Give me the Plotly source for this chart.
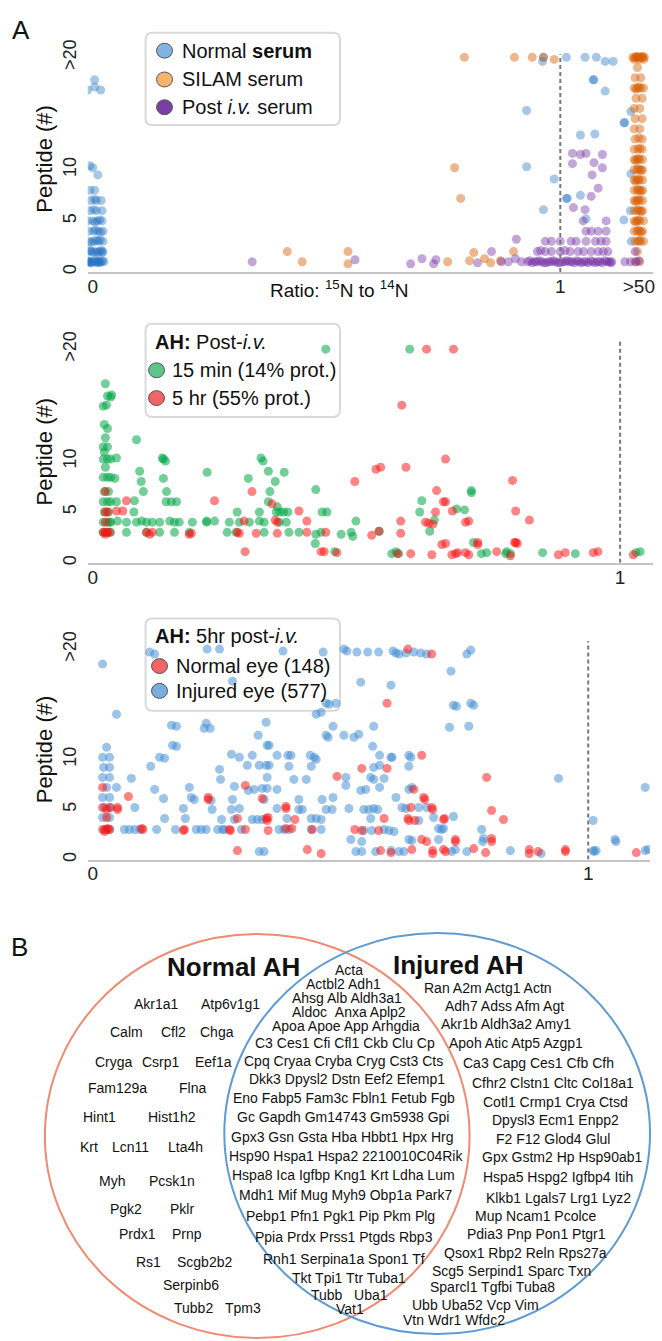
import plotly.graph_objects as go

W, H = 662, 1341
def fx(px): return px / W
def fy(py): return 1 - py / H

# ---------------- DATA ----------------
# Panel A (top): ratio position (0 -> "0", 1 -> "1", 1.168 -> ">50"), peptide count (21 -> ">20")
top_tick_vals = [0, 1, 1.168]
top_tick_text = ["0", "1", ">50"]
mid_tick_vals = [0, 1]
mid_tick_text = ["0", "1"]
y_tick_vals = [0, 5, 10, 21]
y_tick_text = ["0", "5", "10", ">20"]

normal_serum_pts = [
    (-0.012, 1), (-0.006, 1), (0.000, 1), (0.006, 1), (0.012, 1), (0.018, 1), (0.024, 1), (-0.003, 0.9),
    (0.009, 0.9), (0.021, 1.1), (-0.009, 1.1), (0.003, 1.1), (0.015, 0.9), (-0.006, 0.9), (0.012, 1.1),
    (-0.010, 2), (-0.002, 2), (0.006, 2), (0.014, 2), (0.022, 2), (0.002, 1.9), (0.018, 2.1), (-0.006, 2.1),
    (0.010, 1.9), (0.020, 1.9),
    (-0.008, 3), (0.002, 3), (0.012, 3), (0.022, 3), (0.016, 3.1), (-0.003, 2.9), (0.008, 3.1),
    (-0.008, 4), (0.002, 4), (0.012, 4), (0.022, 4), (0.006, 4.1), (0.017, 3.9),
    (-0.010, 5), (0.000, 5), (0.010, 5), (0.020, 5), (0.015, 5.1), (0.005, 4.9),
    (-0.006, 6), (0.008, 6), (0.020, 6), (0.002, 6.1),
    (-0.004, 7), (0.008, 7), (0.018, 7), (0.004, 7.1),
    (-0.006, 8), (0.004, 8), (0.011, 9.5), (-0.006, 10.4), (0.000, 10.2),
    (-0.011, 17.8), (0.004, 18.1), (0.017, 17.8), (0.004, 18.8),
    (0.964, 21), (0.962, 20.6), (1.013, 21), (1.053, 21), (1.077, 21), (1.096, 20.6), (1.113, 20.6),
    (1.070, 18.8), (1.072, 18.8), (1.096, 17.7), (0.928, 15.8), (1.043, 13.4), (1.074, 13.5),
    (1.136, 14.6), (1.138, 14.6), (1.151, 15.7), (0.928, 10.3), (0.987, 9.1), (1.013, 7.2),
    (1.015, 7.2), (1.043, 7.5), (0.964, 6.1), (1.055, 5.2), (1.136, 5.1), (1.151, 9.6),
    (1.152, 3.0), (1.150, 6.0),
]
silam_serum_pts = [
    (0.795, 21), (0.902, 21), (0.940, 21), (0.964, 21), (0.987, 20.8), (0.774, 10.2), (0.787, 7.2),
    (0.759, 1.0), (0.806, 1.1), (0.815, 1.9), (0.838, 1.3), (0.851, 0.9), (0.872, 1.1), (0.900, 2.0),
    (0.416, 2.0), (0.448, 1.0), (0.546, 2.0), (0.546, 0.8),
    (1.155, 21), (1.160, 21), (1.165, 21), (1.170, 21), (1.175, 21), (1.180, 21), (1.162, 21), (1.172, 21),
    (1.158, 20.8), (1.168, 20.8), (1.178, 20.8), (1.164, 21.1), (1.176, 21.1),
    (1.165, 20), (1.160, 19), (1.172, 19),
    (1.158, 18), (1.165, 18), (1.172, 18), (1.178, 18), (1.168, 18.1), (1.162, 17.9),
    (1.162, 17), (1.175, 17), (1.158, 16), (1.170, 16), (1.160, 15), (1.175, 15),
    (1.158, 14), (1.170, 14), (1.160, 13), (1.175, 13), (1.168, 13.1),
    (1.158, 12), (1.166, 12), (1.175, 12), (1.170, 12.1),
    (1.158, 11), (1.164, 11), (1.170, 11), (1.176, 11), (1.167, 11.1), (1.161, 10.9),
    (1.158, 10), (1.164, 10), (1.170, 10), (1.176, 10), (1.167, 10.1), (1.173, 9.9),
    (1.158, 9), (1.164, 9), (1.170, 9), (1.176, 9), (1.167, 9.1), (1.161, 8.9),
    (1.158, 8), (1.164, 8), (1.170, 8), (1.176, 8), (1.167, 8.1), (1.173, 7.9),
    (1.158, 7), (1.164, 7), (1.170, 7), (1.176, 7), (1.167, 7.1), (1.161, 6.9),
    (1.158, 6), (1.164, 6), (1.170, 6), (1.176, 6), (1.167, 6.1), (1.173, 5.9),
    (1.158, 5), (1.164, 5), (1.170, 5), (1.178, 5), (1.167, 5.1), (1.161, 4.9),
    (1.158, 4), (1.164, 4), (1.170, 4), (1.176, 4), (1.167, 4.1), (1.173, 3.9),
    (1.160, 3), (1.166, 3), (1.172, 3), (1.178, 3), (1.169, 3.1),
    (1.165, 2), (1.160, 1), (1.170, 1),
]
post_iv_serum_pts = [
    (0.341, 1.0), (0.561, 1.2), (0.680, 0.8), (0.704, 1.3), (0.729, 0.8), (0.734, 1.2), (0.823, 0.9),
    (0.853, 2.0), (0.874, 1.0), (0.889, 1.0), (0.906, 3.2), (0.904, 1.3), (0.917, 1.0),
    (0.930, 1.0), (0.940, 0.9), (0.950, 1.0), (0.960, 1.0), (0.970, 0.9), (0.980, 1.0), (0.990, 1.0),
    (1.000, 0.9), (1.010, 1.0), (1.020, 1.0), (1.030, 0.9), (1.040, 1.0), (1.050, 1.0), (1.060, 0.9),
    (1.070, 1.0), (1.080, 1.0), (1.090, 0.9), (1.100, 1.0), (1.110, 1.0), (0.945, 1.0), (0.975, 1.0),
    (1.005, 1.0), (1.025, 1.0), (1.055, 1.0), (1.085, 1.0), (1.105, 1.0),
    (0.935, 1.1), (0.955, 1.1), (0.965, 0.9), (0.985, 1.1), (0.995, 0.9), (1.015, 1.1), (1.035, 1.1),
    (1.045, 0.9), (1.065, 1.1), (1.075, 0.9), (1.095, 1.1), (1.108, 0.9),
    (0.951, 2), (0.968, 2), (0.981, 2), (1.000, 2), (1.021, 2), (1.038, 2), (1.066, 2), (1.081, 2), (1.102, 2),
    (0.958, 2.1), (1.010, 2.1), (1.050, 2.0), (1.092, 2.0),
    (0.968, 3), (0.981, 3), (1.000, 3), (1.023, 3), (1.034, 3), (1.055, 3), (1.075, 3), (1.087, 3), (1.098, 3),
    (1.055, 4), (1.066, 4), (1.081, 4), (1.098, 4), (1.049, 5), (1.098, 5),
    (1.028, 6.3), (1.053, 6.1), (1.066, 7.4), (1.081, 8.2), (1.068, 9.5), (1.026, 10.6),
    (1.043, 11.5), (1.026, 11.6), (1.055, 11.6), (1.072, 10.7), (1.090, 11.5), (1.090, 10.2),
    (1.160, 2), (1.162, 1), (1.150, 1), (1.138, 1), (1.168, 1.1),
]

# Panel A (middle): AH post-i.v.
ah_15min_pts = [
    (0.024, 17.6), (0.028, 16.4), (0.036, 16.5), (0.020, 15.4), (0.026, 15.5), (0.022, 13.6), (0.028, 13.2),
    (0.024, 12.3), (0.020, 11.4), (0.028, 11.4), (0.022, 10.9), (0.020, 10.2), (0.028, 10.2), (0.034, 10.2),
    (0.024, 9.4), (0.020, 8.4), (0.028, 8.4), (0.034, 8.4), (0.022, 7.0), (0.030, 7.0),
    (0.020, 6.0), (0.028, 6.0), (0.034, 6.0), (0.022, 5.0), (0.030, 5.0),
    (0.020, 4.0), (0.028, 4.0), (0.034, 4.0), (0.020, 3.0), (0.028, 3.0), (0.034, 3.0),
    (0.442, 21), (0.034, 16.3), (0.083, 12.1), (0.045, 10.3), (0.042, 8.3), (0.089, 9.0), (0.092, 8.0),
    (0.096, 7.0), (0.045, 6.0), (0.079, 6.1), (0.078, 5.0), (0.132, 10.3), (0.134, 10.2), (0.138, 10.0),
    (0.134, 8.3), (0.140, 7.0), (0.139, 6.0), (0.149, 6.0), (0.159, 6.0), (0.217, 8.9), (0.319, 10.3),
    (0.323, 10.0), (0.333, 9.0), (0.363, 8.9), (0.295, 8.3), (0.346, 8.0), (0.336, 7.0), (0.333, 6.0),
    (0.348, 5.0), (0.355, 5.0), (0.362, 5.0), (0.370, 5.0), (0.350, 5.5),
    (0.032, 4.0), (0.047, 4.1), (0.064, 4.0), (0.083, 4.0), (0.093, 4.1), (0.102, 4.0), (0.113, 4.0),
    (0.127, 4.0), (0.146, 4.1), (0.155, 4.0), (0.164, 4.0), (0.189, 4.0), (0.216, 4.0), (0.231, 4.1),
    (0.259, 4.0), (0.278, 4.0), (0.297, 4.0), (0.316, 4.1), (0.325, 4.0), (0.354, 4.0), (0.367, 4.0),
    (0.064, 3.0), (0.102, 3.0), (0.127, 3.0), (0.155, 3.0), (0.183, 3.0), (0.255, 3.0), (0.272, 3.0),
    (0.325, 3.0), (0.372, 3.0), (0.391, 3.0), (0.433, 3.0),
    (0.274, 5.0), (0.316, 5.0), (0.216, 4.1), (0.423, 7.2), (0.435, 5.0), (0.444, 5.0), (0.423, 2.8),
    (0.422, 1.9), (0.459, 1.1), (0.471, 2.8), (0.490, 3.0), (0.493, 2.6), (0.499, 4.1),
    (0.601, 21), (0.624, 6.1), (0.620, 5.0), (0.648, 4.2), (0.639, 3.1), (0.690, 5.3), (0.705, 5.2),
    (0.718, 7.1), (0.718, 6.9), (0.722, 2.0), (0.567, 0.9), (0.575, 1.1), (0.580, 0.9), (0.737, 0.9),
    (0.747, 1.0), (0.783, 0.9), (0.792, 0.9), (0.853, 1.0), (0.915, 0.9), (1.030, 1.0), (1.038, 1.1),
    (0.543, 3.1), (0.785, 1.1),
]
ah_5hr_pts = [
    (0.024, 7.0), (0.024, 5.0), (0.028, 5.0), (0.024, 4.0), (0.020, 3.0), (0.024, 3.0), (0.028, 3.0),
    (0.032, 3.0), (0.024, 2.8),
    (0.045, 5.1), (0.057, 5.1), (0.064, 6.1), (0.113, 3.0), (0.102, 3.0), (0.108, 2.8), (0.187, 2.9),
    (0.183, 2.8), (0.231, 6.1), (0.278, 2.9), (0.274, 3.0), (0.287, 4.1), (0.302, 7.0), (0.310, 2.9),
    (0.289, 1.1), (0.340, 5.8), (0.350, 4.0), (0.346, 4.2), (0.350, 2.9), (0.391, 5.1), (0.406, 4.1),
    (0.406, 3.0), (0.442, 3.0), (0.433, 1.1), (0.439, 1.1), (0.463, 1.0), (0.497, 8.0),
    (0.633, 21), (0.684, 21), (0.586, 15.5), (0.669, 10.2), (0.537, 9.2), (0.546, 9.4), (0.594, 9.4),
    (0.796, 8.1), (0.652, 7.1), (0.665, 6.0), (0.669, 6.0), (0.650, 5.0), (0.682, 5.1), (0.802, 5.1),
    (0.828, 4.2), (0.631, 4.0), (0.637, 3.9), (0.645, 3.8), (0.707, 4.0), (0.713, 4.1), (0.584, 4.1),
    (0.584, 2.9), (0.529, 2.7), (0.543, 3.1), (0.662, 1.8), (0.669, 1.9), (0.730, 2.0), (0.730, 1.8),
    (0.802, 2.0), (0.805, 1.9), (0.800, 2.0), (0.578, 0.9), (0.603, 0.9), (0.643, 0.8), (0.681, 0.8),
    (0.688, 0.9), (0.692, 1.0), (0.707, 1.0), (0.713, 0.8), (0.766, 1.1), (0.792, 0.7), (0.883, 0.8),
    (0.896, 1.0), (0.949, 1.0), (0.958, 1.1), (1.025, 0.8),
]

# Panel A (bottom): AH 5 hr post-i.v.
normal_eye_pts = [
    (0.020, 7.2), (0.020, 5.2), (0.034, 5.2), (0.028, 5.0), (0.028, 4.2), (0.020, 3.0), (0.028, 3.0),
    (0.034, 3.0), (0.024, 2.8), (0.030, 3.1),
    (0.050, 5.0), (0.050, 5.2), (0.072, 6.3), (0.101, 3.0), (0.099, 3.1), (0.185, 3.0), (0.183, 2.9),
    (0.233, 6.0), (0.233, 6.2), (0.276, 3.0), (0.278, 2.9), (0.292, 4.1), (0.292, 0.9), (0.308, 7.4),
    (0.308, 3.0), (0.342, 6.1), (0.350, 4.1), (0.352, 3.9), (0.354, 4.2), (0.354, 2.9), (0.390, 5.1),
    (0.390, 5.3), (0.390, 3.1), (0.402, 3.1), (0.408, 4.0), (0.433, 1.0), (0.461, 0.6), (0.443, 3.0),
    (0.493, 8.3), (0.529, 3.0),
    (0.636, 21), (0.684, 20.5), (0.594, 15.6), (0.664, 10.4), (0.543, 9.1), (0.594, 9.1), (0.795, 8.2),
    (0.648, 7.0), (0.668, 6.2), (0.670, 6.0), (0.642, 5.2), (0.684, 5.2), (0.686, 5.0), (0.636, 4.1),
    (0.638, 3.9), (0.710, 4.1), (0.708, 4.0), (0.650, 3.9), (0.588, 4.1), (0.805, 4.9), (0.829, 4.0),
    (0.543, 2.9), (0.577, 2.9), (0.664, 2.0), (0.674, 1.8), (0.732, 1.8), (0.732, 2.0), (0.805, 2.1),
    (0.805, 1.8), (0.581, 0.9), (0.602, 0.7), (0.644, 1.0), (0.686, 0.9), (0.686, 0.6), (0.708, 1.0),
    (0.712, 0.8), (0.769, 1.1), (0.793, 0.7), (0.881, 1.0), (0.881, 0.6), (0.899, 0.8), (0.954, 1.0),
    (0.954, 0.8), (1.097, 0.7),
]
injured_eye_pts = [
    (0.020, 19.5), (0.028, 11.2), (0.020, 10.2), (0.034, 10.2), (0.022, 9.2), (0.034, 9.2), (0.020, 8.2),
    (0.034, 8.2), (0.028, 7.2), (0.020, 6.2), (0.034, 6.2), (0.024, 5.2), (0.036, 5.2), (0.020, 4.2),
    (0.034, 4.2), (0.024, 3.0), (0.034, 3.0),
    (0.048, 14.5), (0.048, 7.2), (0.078, 8.1), (0.085, 5.2), (0.064, 3.0), (0.074, 3.0), (0.085, 3.0),
    (0.095, 3.0), (0.117, 9.3), (0.125, 7.0), (0.129, 3.0), (0.135, 10.2), (0.145, 10.1), (0.143, 6.1),
    (0.145, 4.1), (0.159, 13.4), (0.169, 13.3), (0.161, 11.4), (0.169, 11.3), (0.167, 3.0), (0.183, 5.1),
    (0.195, 7.2), (0.187, 4.1), (0.199, 6.2), (0.205, 6.0), (0.209, 3.0), (0.219, 3.0), (0.229, 3.0),
    (0.229, 13.6), (0.225, 13.1), (0.237, 13.1), (0.239, 5.9), (0.241, 5.0), (0.256, 9.0), (0.258, 8.0),
    (0.260, 4.0), (0.252, 3.0), (0.262, 3.0), (0.266, 3.0), (0.280, 10.5), (0.282, 6.0), (0.280, 5.0),
    (0.286, 7.3), (0.286, 4.0), (0.296, 10.2), (0.296, 5.1), (0.300, 3.0), (0.312, 9.4), (0.314, 6.9),
    (0.326, 7.0), (0.322, 10.4), (0.322, 4.0), (0.332, 4.0), (0.334, 12.4), (0.336, 9.4), (0.336, 0.8),
    (0.346, 0.8), (0.342, 7.1), (0.346, 6.0), (0.350, 13.7), (0.352, 11.4), (0.356, 11.4), (0.350, 9.4),
    (0.356, 9.4), (0.352, 8.2), (0.352, 7.1), (0.342, 4.0), (0.372, 10.4), (0.372, 7.0), (0.372, 5.1),
    (0.376, 3.0), (0.386, 3.0), (0.396, 3.0), (0.392, 4.1), (0.394, 10.4), (0.400, 10.4), (0.396, 9.3),
    (0.406, 8.0), (0.416, 6.0), (0.416, 5.0), (0.423, 5.0), (0.431, 8.0), (0.439, 10.4), (0.447, 10.2),
    (0.451, 10.0), (0.441, 9.3), (0.441, 4.1), (0.451, 4.1), (0.461, 4.0), (0.441, 3.0), (0.461, 3.0),
    (0.451, 14.5), (0.461, 14.7), (0.471, 15.6), (0.477, 15.5), (0.471, 12.4), (0.475, 12.2),
    (0.463, 6.0), (0.471, 5.0), (0.483, 5.0), (0.485, 6.2), (0.485, 13.3), (0.491, 15.6), (0.507, 12.4),
    (0.511, 7.4), (0.511, 8.2), (0.517, 5.1), (0.521, 2.0), (0.527, 12.2), (0.531, 0.8), (0.282, 17.8),
    (0.115, 20.7), (0.125, 20.5), (0.231, 21), (0.256, 21), (0.384, 20.8), (0.465, 20.7), (0.507, 21),
    (0.513, 20.8), (0.533, 20.7), (0.555, 20.7), (0.577, 20.7), (0.606, 20.8), (0.612, 20.6),
    (0.618, 20.5), (0.632, 20.6), (0.648, 20.7), (0.662, 20.6), (0.674, 20.5), (0.755, 20.5), (0.763, 20.9),
    (0.723, 18.8), (0.541, 17.7), (0.602, 17.4), (0.728, 15.4), (0.734, 15.3), (0.763, 15.6), (0.769, 15.4),
    (0.720, 13.2), (0.759, 13.3), (0.537, 12.5), (0.567, 13.3), (0.565, 11.3), (0.579, 10.4), (0.602, 10.2),
    (0.604, 10.2), (0.638, 10.4), (0.642, 10.2), (0.567, 9.2), (0.579, 9.4), (0.638, 9.3), (0.561, 8.2),
    (0.567, 8.0), (0.588, 8.1), (0.541, 6.9), (0.551, 7.0), (0.579, 7.2), (0.612, 6.2), (0.638, 7.0),
    (0.644, 7.2), (0.547, 5.0), (0.557, 5.0), (0.567, 5.1), (0.575, 5.0), (0.624, 5.2), (0.632, 5.1),
    (0.658, 5.2), (0.674, 5.2), (0.561, 4.1), (0.547, 2.9), (0.563, 2.9), (0.588, 3.0), (0.598, 2.9),
    (0.608, 2.8), (0.658, 3.9), (0.688, 4.2), (0.698, 3.1), (0.704, 3.0), (0.708, 3.1), (0.728, 4.3),
    (0.638, 2.0), (0.644, 1.9), (0.698, 2.0), (0.785, 3.0), (0.789, 2.1), (0.787, 1.8), (0.543, 1.8),
    (0.543, 0.8), (0.571, 0.8), (0.602, 0.9), (0.618, 0.8), (0.628, 0.8), (0.724, 0.8), (0.732, 1.0),
    (0.755, 0.8), (0.843, 0.9), (0.905, 0.6), (0.940, 8.1), (1.010, 3.9), (1.010, 0.9), (1.016, 0.9),
    (1.012, 0.8), (1.054, 2.0), (1.056, 1.8), (1.115, 7.2), (1.115, 0.9), (1.121, 1.0),
]

# Panel B: Venn gene lists
normal_only_genes = ["Akr1a1", "Atp6v1g1", "Calm", "Cfl2", "Chga", "Cryga", "Csrp1", "Eef1a",
                     "Fam129a", "Flna", "Hint1", "Hist1h2", "Krt", "Lcn11", "Lta4h", "Myh", "Pcsk1n",
                     "Pgk2", "Pklr", "Prdx1", "Prnp", "Rs1", "Scgb2b2", "Serpinb6", "Tubb2", "Tpm3"]
shared_rows = ["Acta", "Actbl2 Adh1", "Ahsg Alb Aldh3a1", "Aldoc  Anxa Aplp2", "Apoa Apoe App Arhgdia",
               "C3 Ces1 Cfi Cfl1 Ckb Clu Cp", "Cpq Cryaa Cryba Cryg Cst3 Cts",
               "Dkk3 Dpysl2 Dstn Eef2 Efemp1", "Eno Fabp5 Fam3c Fbln1 Fetub Fgb",
               "Gc Gapdh Gm14743 Gm5938 Gpi", "Gpx3 Gsn Gsta Hba Hbbt1 Hpx Hrg",
               "Hsp90 Hspa1 Hspa2 2210010C04Rik", "Hspa8 Ica Igfbp Kng1 Krt Ldha Lum",
               "Mdh1 Mif Mug Myh9 Obp1a Park7", "Pebp1 Pfn1 Pgk1 Pip Pkm Plg", "Ppia Prdx Prss1 Ptgds Rbp3",
               "Rnh1 Serpina1a Spon1 Tf", "Tkt Tpi1 Ttr Tuba1", "Tubb   Uba1", "Vat1"]
injured_rows = ["Ran A2m Actg1 Actn", "Adh7 Adss Afm Agt", "Akr1b Aldh3a2 Amy1",
                "Apoh Atic Atp5 Azgp1", "Ca3 Capg Ces1 Cfb Cfh", "Cfhr2 Clstn1 Cltc Col18a1",
                "Cotl1 Crmp1 Crya Ctsd", "Dpysl3 Ecm1 Enpp2", "F2 F12 Glod4 Glul",
                "Gpx Gstm2 Hp Hsp90ab1", "Hspa5 Hspg2 Igfbp4 Itih", "Klkb1 Lgals7 Lrg1 Lyz2",
                "Mup Ncam1 Pcolce", "Pdia3 Pnp Pon1 Ptgr1", "Qsox1 Rbp2 Reln Rps27a",
                "Scg5 Serpind1 Sparc Txn", "Sparcl1 Tgfbi Tuba8", "Ubb Uba52 Vcp Vim",
                "Vtn Wdr1 Wfdc2"]

# ---------------- LAYOUT POSITIONS (pixels) ----------------
normal_only_pos = [(157, 1003), (231, 1003), (127, 1032), (174, 1032), (218, 1032), (114, 1062),
                   (161, 1062), (214, 1062), (118, 1088), (193, 1088), (100, 1117), (173, 1117),
                   (89, 1148), (131, 1148), (186, 1148), (112, 1182), (173, 1182), (126, 1210),
                   (183, 1210), (138, 1235), (188, 1235), (149, 1263), (205, 1263), (192, 1287),
                   (194, 1310), (244, 1310)]
shared_pos = [(350, 969), (345, 983), (348, 997), (350, 1012), (347, 1026), (346, 1043), (345, 1061),
              (348, 1079), (345, 1098), (344, 1117), (344, 1137), (347, 1157), (345, 1176), (347, 1196),
              (342, 1217), (345, 1238), (345, 1260), (350, 1280), (351, 1297), (351, 1311)]
injured_pos = [(489, 987), (506, 1005), (508, 1024), (518, 1043), (540, 1063), (555, 1083), (557, 1102),
               (557, 1120), (555, 1139), (564, 1158), (560, 1178), (560, 1199), (538, 1217), (538, 1235),
               (527, 1254), (513, 1272), (494, 1289), (477, 1307), (455, 1322)]

FONT = "Liberation Sans, Arial, Helvetica, sans-serif"
MS = 9

fig = go.Figure()

def add_pts(pts, color, xa, ya):
    fig.add_trace(go.Scatter(x=[p[0] for p in pts], y=[p[1] for p in pts], mode="markers",
                             marker=dict(size=MS, color=color, line=dict(width=0)),
                             xaxis=xa, yaxis=ya, showlegend=False, hoverinfo="x+y"))

add_pts(normal_serum_pts, "rgba(35,115,195,0.40)", "x", "y")
add_pts(silam_serum_pts, "rgba(215,95,5,0.45)", "x", "y")
add_pts(post_iv_serum_pts, "rgba(115,45,165,0.42)", "x", "y")
add_pts(ah_15min_pts, "rgba(0,165,70,0.55)", "x2", "y2")
add_pts(ah_5hr_pts, "rgba(250,20,20,0.52)", "x2", "y2")
add_pts(injured_eye_pts, "rgba(65,140,210,0.52)", "x3", "y3")
add_pts(normal_eye_pts, "rgba(250,20,20,0.52)", "x3", "y3")

# panel geometry: (left px, right px, bottom px, top px, x range)
panels = {
    "1": (88, 655, 266, 266 - 22 * 10.3, (-5 / 469, 562 / 469), top_tick_vals, top_tick_text),
    "2": (88, 655, 559, 559 - 22 * 10.25, (-5 / 529, 562 / 529), mid_tick_vals, mid_tick_text),
    "3": (88, 652, 858, 858 - 22 * 10.1, (-5 / 497, 559 / 497), mid_tick_vals, mid_tick_text),
}
layout_axes = {}
for k, (l, r, b, t, xr, tv, tt) in panels.items():
    sx = "" if k == "1" else k
    layout_axes["xaxis" + sx] = dict(domain=[fx(l), fx(r)], range=list(xr), anchor="y" + sx,
                                     tickvals=tv, ticktext=tt, showline=True, linecolor="#c4c4c4",
                                     linewidth=2, ticks="", showgrid=False, zeroline=False,
                                     ticklabelstandoff=-4,
                                     tickfont=dict(size=19, family=FONT, color="#222"), fixedrange=True)
    layout_axes["yaxis" + sx] = dict(domain=[fy(b), fy(t)], range=[0, 22], anchor="x" + sx,
                                     tickvals=y_tick_vals, ticktext=y_tick_text, tickangle=-90,
                                     showline=False, ticks="", showgrid=False, zeroline=False,
                                     ticklabelstandoff=7,
                                     tickfont=dict(size=18, family=FONT, color="#222"), fixedrange=True)

shapes = []
# dashed lines at ratio 1
for sx, ytop in (("", 21.3), ("2", 22), ("3", 21.8)):
    shapes.append(dict(type="line", xref="x" + sx, yref="y" + sx, x0=1, x1=1, y0=0, y1=ytop,
                       line=dict(color="#777", width=2, dash="4px,3px"), layer="above"))

def rrect(x0, y0, x1, y1, r=7):
    return ("M {a},{b} L {c},{b} Q {d},{b} {d},{e} L {d},{f} Q {d},{g} {c},{g} L {a},{g} "
            "Q {h},{g} {h},{f} L {h},{e} Q {h},{b} {a},{b} Z").format(
        a=fx(x0 + r), b=fy(y0), c=fx(x1 - r), d=fx(x1), e=fy(y0 + r), f=fy(y1 - r), g=fy(y1), h=fx(x0))

for (x0, y0, x1, y1) in [(146, 25, 341, 118), (146, 318, 341, 412), (146, 615, 341, 708)]:
    shapes.append(dict(type="path", xref="paper", yref="paper", path=rrect(x0, y0, x1, y1),
                       fillcolor="white", line=dict(color="#d9d9d9", width=2), layer="below"))

legend_marks = [(165, 43, "#80b3e1"), (165, 72, "#f6b36c"), (165, 100, "#7b3fa3"),
                (157, 365, "#5fc58b"), (157, 393, "#f06565"),
                (160, 663, "#f06565"), (160, 688, "#7aade0")]
for cx, cy, col in legend_marks:
    shapes.append(dict(type="circle", xref="paper", yref="paper", x0=fx(cx - 8), x1=fx(cx + 8),
                       y0=fy(cy + 7.5), y1=fy(cy - 7.5), fillcolor=col,
                       line=dict(color="#555", width=1), layer="above"))

# Venn ellipses
shapes.append(dict(type="circle", xref="paper", yref="paper", x0=fx(45), x1=fx(471), y0=fy(1340),
                   y1=fy(933), line=dict(color="#f08a70", width=2)))
shapes.append(dict(type="circle", xref="paper", yref="paper", x0=fx(225), x1=fx(652), y0=fy(1336),
                   y1=fy(932), line=dict(color="#5f9bd3", width=2)))

ann = []
def txt(s, px, py, size, xanchor="center", angle=0, color="#111"):
    ann.append(dict(text=s, x=fx(px), y=fy(py), xref="paper", yref="paper", showarrow=False,
                    xanchor=xanchor, yanchor="middle", textangle=angle,
                    font=dict(size=size, family=FONT, color=color)))

txt("A", 10, 22, 26, "left")
txt("B", 9, 946, 26, "left")
for py in (152, 447, 747):
    txt("Peptide (#)", 45, py, 22, angle=-90)
txt("Ratio: <sup>15</sup>N to <sup>14</sup>N", 340, 283, 19)

legend_texts = [("Normal <b>serum</b>", 181, 43), ("SILAM serum", 181, 72), ("Post <i>i.v.</i> serum", 181, 100),
                ("<b>AH:</b> Post-<i>i.v.</i>", 153, 337), ("15 min (14% prot.)", 171, 365),
                ("5 hr (55% prot.)", 171, 393),
                ("<b>AH:</b> 5hr post-<i>i.v.</i>", 153, 633), ("Normal eye (148)", 175, 663),
                ("Injured eye (577)", 175, 688)]
for s, px, py in legend_texts:
    txt(s, px, py, 20, "left")

txt("<b>Normal AH</b>", 234, 966, 26)
txt("<b>Injured AH</b>", 459, 964, 26)
for g, (px, py) in zip(normal_only_genes, normal_only_pos):
    txt(g, px, py, 14)
for row, (px, py) in zip(shared_rows, shared_pos):
    txt(row.replace("  ", "&nbsp;&nbsp;"), px, py, 14)
for row, (px, py) in zip(injured_rows, injured_pos):
    txt(row, px, py, 14)

fig.update_layout(width=W, height=H, margin=dict(l=0, r=0, t=0, b=0),
                  paper_bgcolor="white", plot_bgcolor="rgba(0,0,0,0)",
                  shapes=shapes, annotations=ann, font=dict(family=FONT), **layout_axes)
fig.write_html("out.html", config={"displayModeBar": False},
               post_script="document.body.style.margin='0px';document.body.style.overflow='hidden';")
